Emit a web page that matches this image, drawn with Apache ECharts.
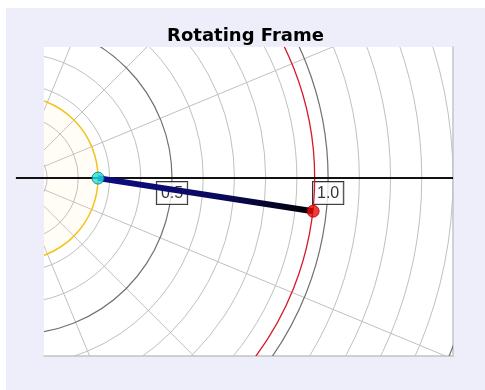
<!DOCTYPE html>
<html>
<head>
<meta charset="utf-8">
<title>Rotating Frame</title>
<script src="https://cdn.jsdelivr.net/npm/echarts@6/dist/echarts.min.js"></script>
<style>
  html, body { margin: 0; padding: 0; background: #ffffff; }
  #chart { position: absolute; left: 6px; top: 8px; width: 479px; height: 382px; background: #eeeefa; }
</style>
</head>
<body>
<div id="chart"></div>
<script>
// Visible window of the rotating frame (units of the 1.0 ring)
const xRange = [0.09, 1.4];
const yRange = [-0.57, 0.42];

// Reference rings every 0.1, with heavier rings on the half units
const ringRadii = [0.1, 0.2, 0.3, 0.4, 0.5, 0.6, 0.7, 0.8, 0.9, 1.0, 1.1, 1.2, 1.3, 1.4, 1.5];
const majorRings = [0.5, 1.0, 1.5];
// Radial spokes (degrees)
const spokeAngles = [0, 22.5, 45, 67.5, 90, 112.5, 135, 157.5, 180, 202.5, 225, 247.5, 270, 292.5, 315, 337.5];

// Labelled rings on the frame axis
const ringLabels = [0.5, 1.0];

// Orbits and bodies
const innerOrbitRadius = 0.263;
const outerOrbitRadius = 0.957;
const innerBody = [0.263, 0];
const outerBody = [0.952, -0.106];
const frameAxis = [[0, 0], [1.4, 0]];

const chart = echarts.init(document.getElementById('chart'), null, { renderer: 'canvas' });

function ringItem(stroke, width, fill) {
  return function (params, api) {
    const r = api.value(0);
    const c = api.coord([0, 0]);
    const rp = api.size([r, 0])[0];
    const isMajor = majorRings.some(function (m) { return Math.abs(m - r) < 1e-6; });
    return {
      type: 'circle',
      shape: { cx: c[0], cy: c[1], r: rp },
      style: {
        fill: fill || 'none',
        stroke: stroke || (isMajor ? '#707070' : '#c0c0c0'),
        lineWidth: width || (isMajor ? 1.2 : 1)
      }
    };
  };
}

function spokeItem(params, api) {
  const a = api.value(0) * Math.PI / 180;
  const c = api.coord([0, 0]);
  const e = api.coord([2.2 * Math.cos(a), 2.2 * Math.sin(a)]);
  return {
    type: 'line',
    shape: { x1: c[0], y1: c[1], x2: e[0], y2: e[1] },
    style: { stroke: '#c0c0c0', lineWidth: 1 }
  };
}

// Frame axis: runs from the frame origin to the right edge of the window
function axisItem(params, api) {
  const a = api.coord(frameAxis[0]);
  const b = api.coord(frameAxis[1]);
  return {
    type: 'line',
    shape: { x1: a[0], y1: a[1], x2: b[0], y2: b[1] },
    style: { stroke: '#111111', lineWidth: 2 }
  };
}

const option = {
  backgroundColor: '#eeeefa',
  animation: false,
  title: {
    text: 'Rotating Frame',
    left: 'center',
    top: 14,
    textStyle: { fontFamily: 'DejaVu Sans', fontSize: 18, fontWeight: 'bold', color: '#000' }
  },
  grid: { left: 38, top: 39, right: 32, bottom: 34, show: true, backgroundColor: '#ffffff', borderWidth: 0 },
  xAxis: {
    type: 'value', min: xRange[0], max: xRange[1], position: 'bottom',
    axisLine: { onZero: false, lineStyle: { color: '#c4c4c4', width: 1.5 } },
    axisTick: { show: false }, axisLabel: { show: false }, splitLine: { show: false }
  },
  yAxis: {
    type: 'value', min: yRange[0], max: yRange[1], position: 'right',
    axisLine: { show: true, onZero: false, lineStyle: { color: '#c4c4c4', width: 1.5 } },
    axisTick: { show: false }, axisLabel: { show: false }, splitLine: { show: false }
  },
  series: [
    {
      type: 'custom', clip: true, z: 1, silent: true,
      data: spokeAngles.map(function (a) { return [a]; }),
      renderItem: spokeItem
    },
    {
      type: 'custom', clip: true, z: 2, silent: true,
      data: [[innerOrbitRadius]],
      renderItem: ringItem('none', 0, 'rgba(255, 236, 170, 0.12)')
    },
    {
      type: 'custom', clip: true, z: 3, silent: true,
      data: ringRadii.map(function (r) { return [r]; }),
      renderItem: ringItem()
    },
    {
      type: 'scatter', z: 4, silent: true, symbolSize: 0,
      data: ringLabels.map(function (v) { return [v, 0]; }),
      label: {
        show: true, position: 'bottom', distance: 4,
        formatter: function (p) { return p.value[0].toFixed(1); },
        fontFamily: 'Liberation Sans', fontSize: 16, color: '#000', lineHeight: 18,
        backgroundColor: '#ffffff', borderColor: '#000', borderWidth: 1,
        padding: [3, 4, 1, 4]
      }
    },
    {
      type: 'custom', clip: true, z: 5, silent: true,
      data: [[innerOrbitRadius]],
      renderItem: ringItem('#f2c31c', 1.5)
    },
    {
      type: 'custom', clip: true, z: 5, silent: true,
      data: [[outerOrbitRadius]],
      renderItem: ringItem('#d41a28', 1.3)
    },
    {
      type: 'custom', clip: false, z: 6, silent: true,
      data: [[0]],
      renderItem: axisItem
    },
    {
      type: 'line', z: 7, clip: false, silent: true, symbol: 'none',
      data: [innerBody, outerBody],
      lineStyle: {
        width: 6,
        color: new echarts.graphic.LinearGradient(0, 0, 1, 0, [
          { offset: 0, color: '#0c0c86' },
          { offset: 0.55, color: '#0a0a5e' },
          { offset: 1, color: '#000000' }
        ])
      }
    },
    {
      type: 'scatter', z: 8, silent: true, symbolSize: 12,
      data: [innerBody],
      itemStyle: { color: '#1ee4e4', borderColor: '#0a6b7a', borderWidth: 1 }
    },
    {
      type: 'scatter', z: 8, silent: true, symbolSize: 12,
      data: [outerBody],
      itemStyle: { color: '#ee0a0a', borderColor: '#b00000', borderWidth: 1 }
    }
  ]
};

chart.setOption(option);
</script>
</body>
</html>
